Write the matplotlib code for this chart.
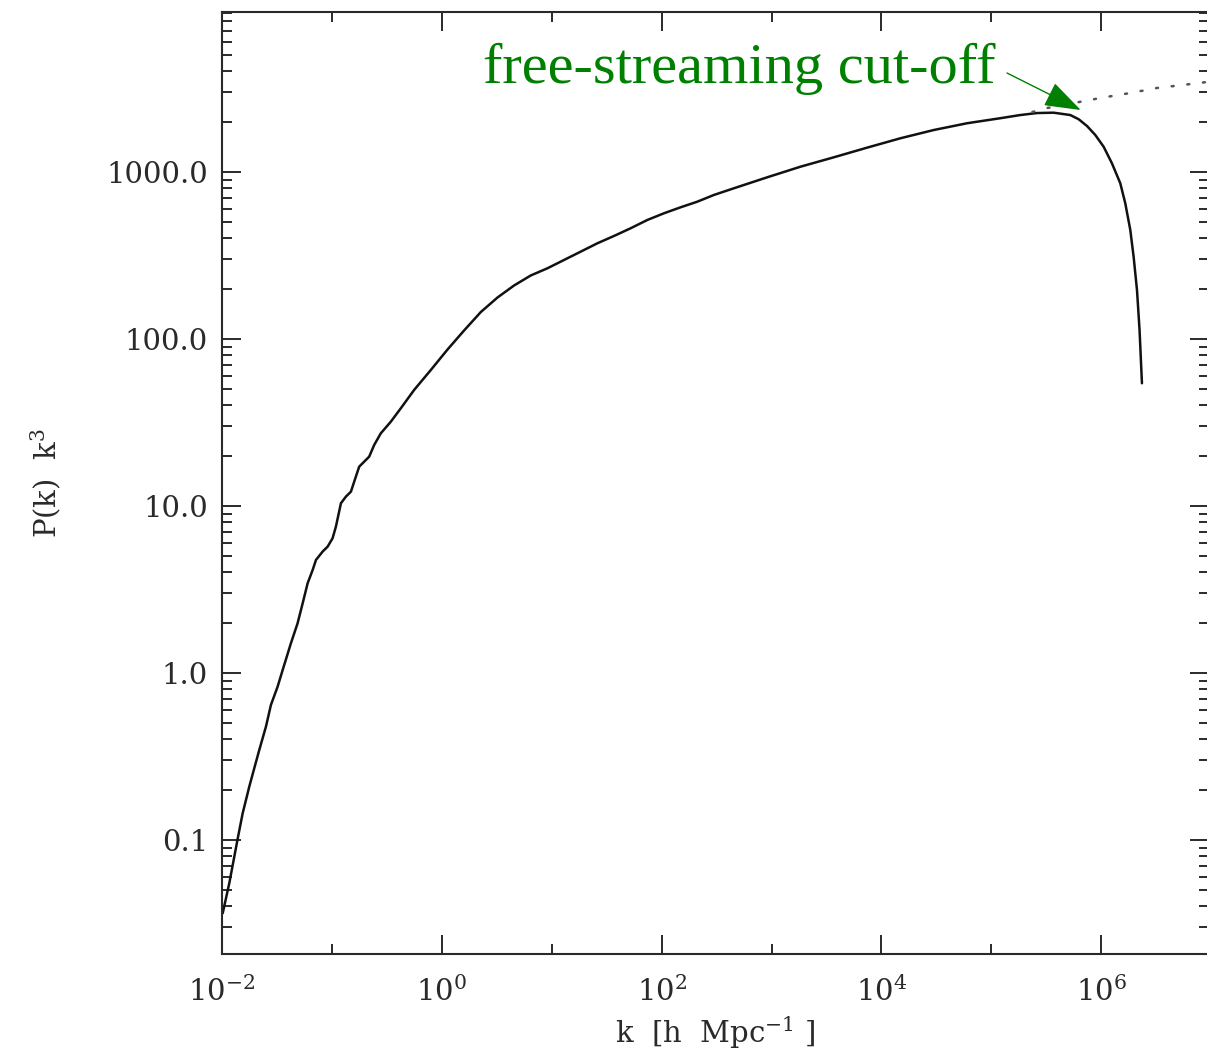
import numpy as np
import matplotlib
matplotlib.use("Agg")
import matplotlib.pyplot as plt
from matplotlib.ticker import FixedLocator, FixedFormatter, LogLocator, NullFormatter

# ---- data ----
k_solid = [0.01015, 0.01165, 0.01390, 0.01542, 0.01771, 0.01966, 0.02184, 0.02512,
           0.02786, 0.03206, 0.03565, 0.04236, 0.04872, 0.05420, 0.06012, 0.06683,
           0.07161, 0.08222, 0.09141, 0.1014, 0.1087, 0.1208, 0.1340, 0.1489,
           0.1652, 0.1771, 0.1966, 0.2184, 0.2425, 0.2786, 0.3436, 0.4236,
           0.5598, 0.7943, 1.127, 1.596, 2.264, 3.206, 4.539, 6.442, 9.138,
           12.94, 18.35, 26.02, 36.84, 52.24, 74.13, 105.0, 148.9, 211.3, 298.5,
           454.0, 913.9, 1837., 3681., 7413., 1.489e4, 2.985e4, 6.008e4,
           1.208e5, 1.836e5, 2.600e5, 3.683e5, 5.224e5, 6.223e5, 7.417e5,
           8.810e5, 1.050e6, 1.250e6, 1.489e6, 1.652e6, 1.836e6, 1.968e6,
           2.113e6, 2.229e6, 2.344e6]
P_solid = [0.0364, 0.0551, 0.102, 0.1445, 0.2086, 0.2687, 0.346, 0.4775,
           0.643, 0.828, 1.042, 1.506, 1.984, 2.614, 3.443, 4.140,
           4.750, 5.327, 5.706, 6.407, 7.516, 10.38, 11.37, 12.18,
           14.99, 17.19, 18.42, 19.74, 23.19, 27.24, 31.97, 38.46,
           49.51, 65.2, 86.5, 112.5, 145.0, 177.0, 209.0, 240.0, 265.0,
           297.2, 333.4, 374.1, 413.8, 460.2, 516.0, 565.8, 614.6, 664.0, 728.2,
           798.7, 929.4, 1076., 1224., 1399., 1592., 1783., 1958.,
           2099., 2193., 2254., 2265., 2193., 2070., 1884.,
           1667., 1417., 1127., 855.5, 650.6, 449.8, 311.3,
           196.3, 113.2, 54.3]

k_dotted = [2.36e5, 3.23e5, 9.80e5, 1.84e6, 3.23e6, 5.56e6, 9.20e6]
P_dotted = [2286., 2416., 2773., 2972., 3186., 3319., 3460.]

x_major = [1e-2, 1e0, 1e2, 1e4, 1e6]
x_minor = [1e-1, 1e1, 1e3, 1e5]
y_major = [0.1, 1.0, 10.0, 100.0, 1000.0]
y_tick_labels = ["0.1", "1.0", "10.0", "100.0", "1000.0"]

annot_text = "free-streaming cut-off"
annot_tip_k, annot_tip_P = 6.5e5, 2350.

# ---- figure ----
W, H = 1207, 1052
plt.rcParams['mathtext.fontset'] = 'dejavuserif'
plt.rcParams['font.family'] = ['DejaVu Serif']
fig = plt.figure(figsize=(W / 100, H / 100), dpi=100)
ax = fig.add_axes([222 / W, 1 - 954 / H, 987 / W, 942 / H])

ink = '#2a2a2a'
ax.plot(k_solid, P_solid, color='#111111', lw=1.8, solid_capstyle='round',
        solid_joinstyle='round')
ax.plot(k_dotted, P_dotted, color='#555555', lw=1.8, linestyle=(0, (0.8, 5.5)),
        dash_capstyle='round')

ax.set_xscale('log')
ax.set_yscale('log')
ax.set_xlim(1e-2, 10 ** 6.98)
ax.set_ylim(10 ** -1.683, 10 ** 3.958)

ax.xaxis.set_major_locator(FixedLocator(x_major))
ax.xaxis.set_minor_locator(FixedLocator(x_minor))
ax.xaxis.set_minor_formatter(NullFormatter())
ax.yaxis.set_major_locator(FixedLocator(y_major))
ax.yaxis.set_major_formatter(FixedFormatter(y_tick_labels))
ax.yaxis.set_minor_locator(LogLocator(base=10, subs=np.arange(2, 10), numticks=30))
ax.yaxis.set_minor_formatter(NullFormatter())

for s in ax.spines.values():
    s.set_color(ink)
    s.set_linewidth(1.5)

ax.tick_params(which='both', direction='in', top=True, right=True, color=ink,
               labelcolor=ink, labelsize=21)
ax.tick_params(which='major', length=14, width=1.4)
ax.tick_params(which='minor', length=7.5, width=1.4)
ax.tick_params(axis='y', which='major', pad=10)
ax.tick_params(axis='x', which='major', pad=16)

ax.set_xlabel(r"k  [h  Mpc$^{-1}$ ]", fontsize=21, color=ink, va='top')
ax.xaxis.set_label_coords(0.5, -0.064)
ax.set_ylabel(r"P(k)  k$^3$", fontsize=21, color=ink, va='center')
ax.yaxis.set_label_coords(-0.179, 0.5)

# annotation
fig.text(483 / W, 1 - 83 / H, annot_text, color='#008000', fontsize=42,
         family=['Liberation Serif', 'DejaVu Serif'], ha='left', va='baseline')
ax.annotate('', xy=(annot_tip_k, annot_tip_P), xycoords='data',
            xytext=(1007, H - 73), textcoords='figure pixels',
            arrowprops=dict(arrowstyle='-|>,head_length=2.3,head_width=0.8',
                            mutation_scale=10, color='#008000', lw=1.0,
                            shrinkA=0, shrinkB=0))

fig.savefig('out.png', dpi=100)
